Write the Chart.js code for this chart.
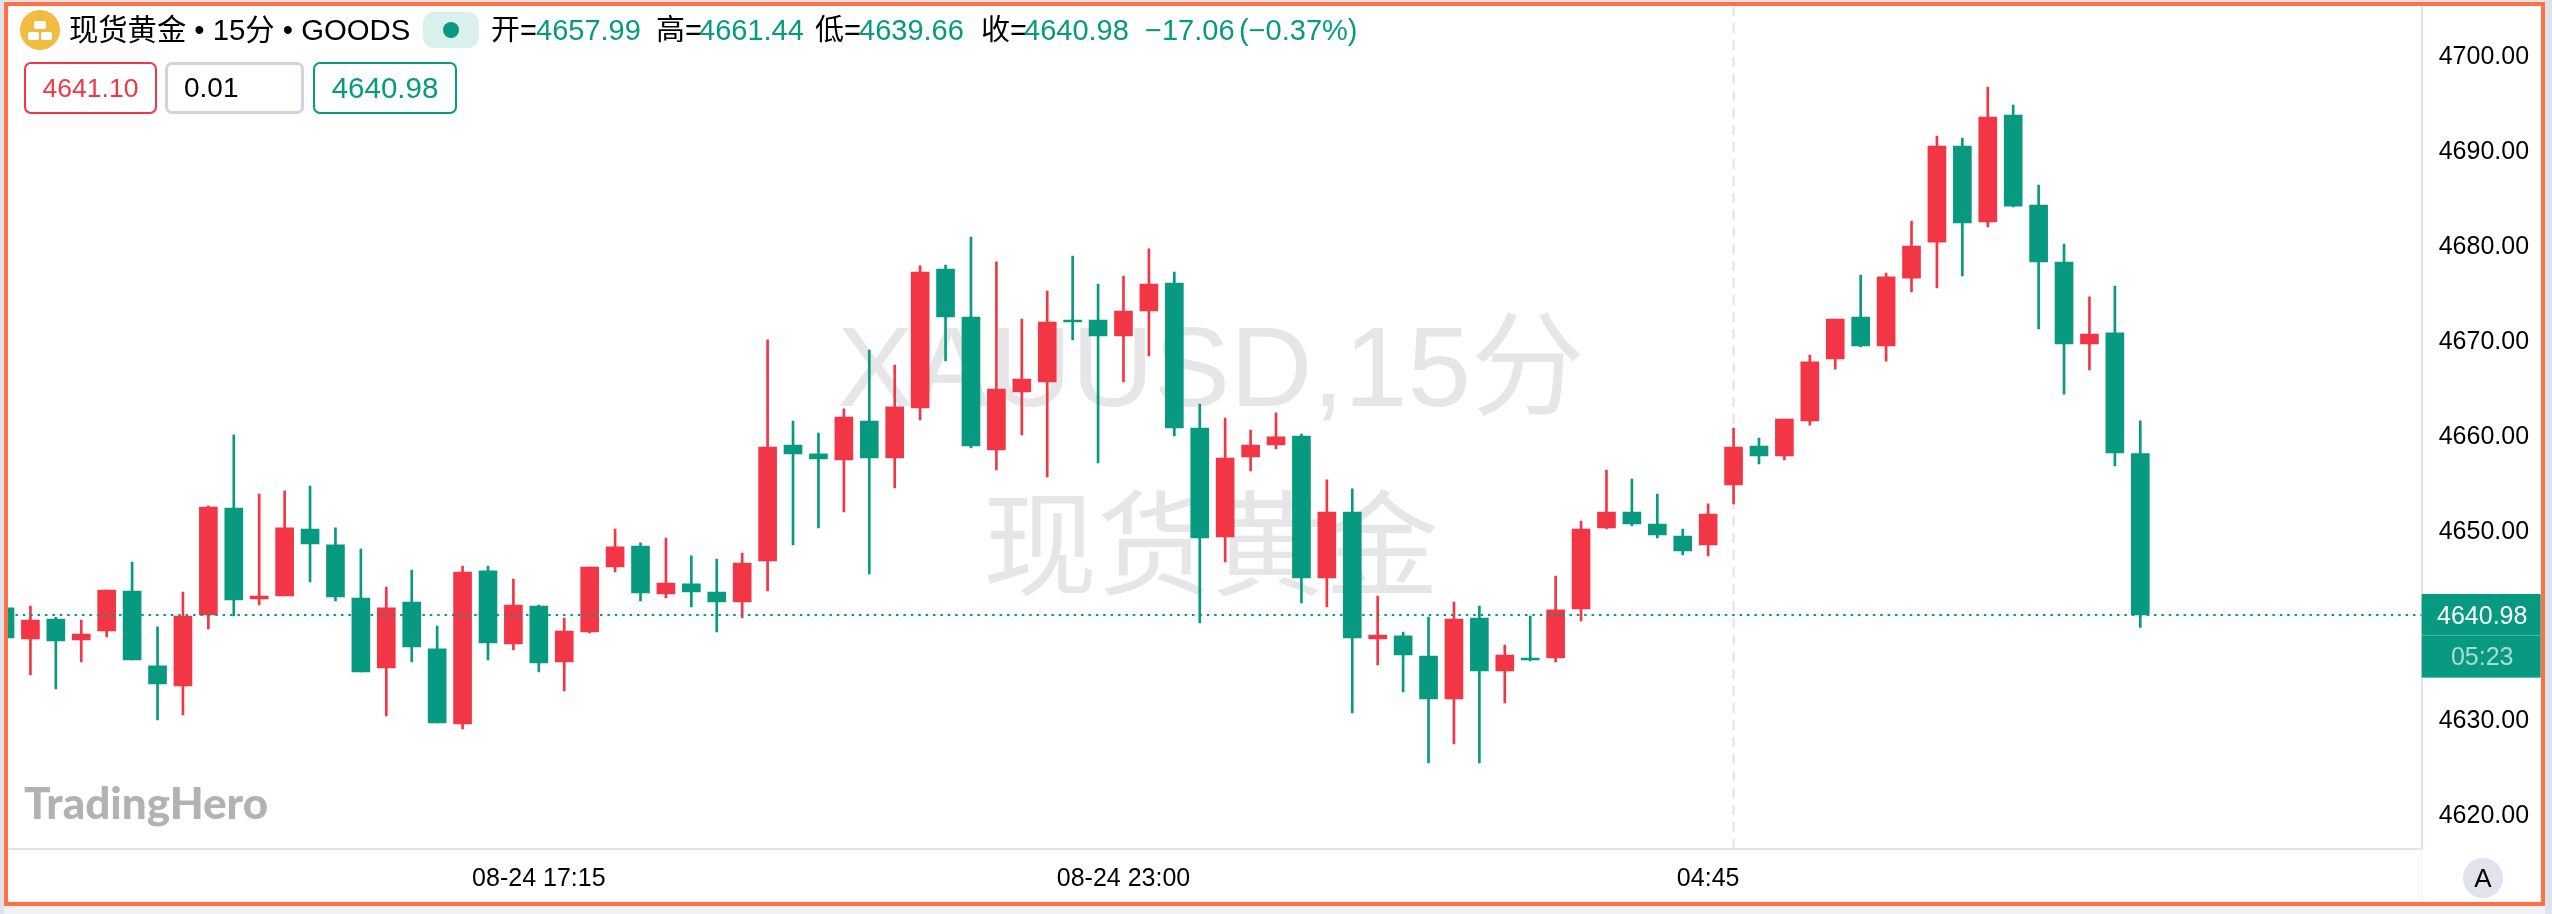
<!DOCTYPE html>
<html lang="zh">
<head>
<meta charset="utf-8">
<title>现货黄金 15分</title>
<script src="https://cdn.jsdelivr.net/npm/chart.js@4"></script>
<style>
  html, body { margin: 0; padding: 0; background: #dfe3ec; }
  body { position: relative; width: 2552px; height: 914px; overflow: hidden; font-family: "Liberation Sans", "Noto Sans CJK SC", sans-serif; color: #000; }
  #bg { position: absolute; left: 4px; top: 2px; width: 2541px; height: 904px; background: #fff; z-index: 0; }
  #foot { position: absolute; left: 4px; top: 906px; width: 2541px; height: 8px; background: #f0f2f6; z-index: 0; }
  #chart { position: absolute; left: 0; top: 0; z-index: 1; }
  .t { position: absolute; white-space: nowrap; z-index: 2; font-size: 29px; line-height: 36px; top: 12px; }
  .up { color: #089981; }
  .mark { position: absolute; z-index: 0; white-space: nowrap; color: #e6e6e8; font-size: 114px; line-height: 120px; transform: translateX(-50%); left: 1211px; }
  .chip { position: absolute; z-index: 2; top: 62px; height: 52px; box-sizing: border-box; border-radius: 7px; font-size: 26.5px; line-height: 48px; text-align: center; }
  #frame { position: absolute; left: 4px; top: 2px; width: 2541px; height: 904px; box-sizing: border-box; border: 4px solid #ff7043; z-index: 3; }
  #logo { position: absolute; left: 24px; top: 777px; z-index: 2; font-family: Lato, sans-serif; font-weight: 900; font-size: 44px; line-height: 50px; color: #b2b2b2; }
  #auto { position: absolute; left: 2463px; top: 858px; width: 40px; height: 40px; border-radius: 20px; background: #e0e3eb; z-index: 2; text-align: center; font-size: 26px; line-height: 40px; }
  #badge { position: absolute; left: 423px; top: 12px; width: 56px; height: 36px; border-radius: 11px; background: #d9f0ec; z-index: 2; }
  #badge i { position: absolute; left: 20px; top: 10px; width: 16px; height: 16px; border-radius: 8px; background: #089981; }
  #gold { position: absolute; left: 20px; top: 10px; z-index: 2; }
</style>
</head>
<body>
<div id="bg"></div>
<div id="foot"></div>
<div class="mark" style="top:307px">XAUUSD,15分</div>
<div class="mark" style="top:487px">现货黄金</div>
<canvas id="chart" width="2552" height="914"></canvas>

<svg id="gold" width="40" height="40" viewBox="0 0 40 40">
  <circle cx="20" cy="20" r="20" fill="#f0bc41"/>
  <rect x="14" y="11" width="12" height="8" rx="2" fill="#fff"/>
  <rect x="8" y="22" width="11" height="8" rx="2" fill="#fff"/>
  <rect x="21" y="22" width="11" height="8" rx="2" fill="#fff"/>
</svg>
<div class="t" style="left:69px;font-size:29.3px">现货黄金 • 15分 • GOODS</div>
<div id="badge"><i></i></div>
<div class="t" style="left:491px">开=</div><div class="t up" style="left:536px">4657.99</div>
<div class="t" style="left:656px">高=</div><div class="t up" style="left:699px">4661.44</div>
<div class="t" style="left:815px">低=</div><div class="t up" style="left:859px">4639.66</div>
<div class="t" style="left:981px">收=</div><div class="t up" style="left:1024px">4640.98</div>
<div class="t up" style="left:1145px">−17.06</div>
<div class="t up" style="left:1239px">(−0.37%)</div>

<div class="chip" style="left:24px;width:133px;border:2px solid #f23645;color:#f23645">4641.10</div>
<div class="chip" style="left:165px;width:139px;border:3px solid #d1d4dc;text-align:left;padding-left:16px;line-height:46px;font-size:28px">0.01</div>
<div class="chip" style="left:313px;width:144px;border:2px solid #089981;color:#089981;font-size:29.5px">4640.98</div>

<div id="logo">TradingHero</div>
<div id="auto">A</div>
<div id="frame"></div>

<script>
// OHLC, one entry per 15 minute candle
var opens = [4641.71,4638.44,4640.55,4638.34,4639.28,4643.50,4635.60,4633.49,4640.97,4652.24,4642.66,4642.97,4650.03,4648.35,4642.76,4635.38,4642.34,4637.39,4629.48,4645.61,4637.91,4641.92,4636.02,4639.18,4646.03,4648.24,4643.18,4644.24,4643.39,4642.34,4646.66,4658.88,4657.94,4657.30,4661.41,4657.51,4662.78,4677.43,4672.37,4658.36,4664.47,4665.52,4672.05,4672.05,4670.37,4673.00,4675.95,4660.67,4649.19,4657.62,4658.88,4659.83,4644.87,4651.82,4638.44,4638.76,4636.65,4632.12,4640.65,4635.07,4636.44,4636.44,4641.60,4650.14,4651.82,4650.56,4649.29,4648.35,4654.67,4658.78,4657.72,4661.43,4667.96,4672.35,4669.33,4676.47,4680.26,4690.38,4682.40,4693.65,4684.17,4678.16,4669.53,4670.70,4657.99];
var highs = [4641.71,4641.92,4640.72,4640.44,4643.60,4646.55,4639.71,4643.39,4652.46,4659.94,4653.72,4654.04,4654.56,4650.14,4647.92,4643.92,4645.71,4639.81,4646.13,4646.13,4644.76,4642.02,4640.65,4646.03,4650.03,4648.56,4649.08,4647.19,4646.87,4647.50,4669.95,4661.41,4660.15,4662.68,4668.89,4667.31,4677.75,4677.85,4680.80,4678.17,4672.16,4675.11,4678.80,4675.85,4676.69,4679.54,4677.11,4663.20,4661.73,4660.46,4662.26,4660.04,4655.20,4654.25,4642.97,4639.18,4640.76,4642.34,4641.92,4637.81,4640.86,4645.08,4650.87,4656.25,4655.30,4653.72,4650.03,4652.67,4660.67,4659.62,4661.62,4668.36,4672.15,4676.79,4676.99,4682.48,4691.43,4691.23,4696.59,4694.69,4686.27,4680.06,4674.49,4675.62,4661.44];
var lows = [4638.55,4634.65,4633.17,4636.02,4638.65,4636.23,4629.91,4630.43,4639.49,4640.86,4642.02,4642.97,4644.45,4642.45,4634.96,4630.33,4636.02,4629.59,4628.96,4636.23,4637.28,4634.96,4632.96,4639.07,4645.50,4642.45,4642.76,4641.81,4639.18,4640.65,4643.50,4648.35,4650.14,4651.82,4645.29,4654.35,4661.52,4667.73,4658.57,4656.25,4659.94,4655.51,4669.95,4656.99,4665.52,4668.26,4659.83,4640.13,4646.55,4656.14,4658.46,4642.23,4641.81,4630.64,4635.70,4632.86,4625.37,4627.38,4625.37,4631.70,4636.12,4636.02,4640.34,4650.03,4650.35,4649.08,4647.29,4647.19,4652.67,4656.88,4657.30,4660.98,4666.87,4669.21,4667.72,4675.02,4675.42,4676.71,4681.87,4683.97,4671.10,4664.25,4666.79,4656.67,4639.66];
var closes = [4638.55,4640.44,4638.23,4638.97,4643.60,4636.23,4633.70,4640.86,4652.35,4642.55,4642.97,4650.14,4648.45,4642.87,4634.96,4641.71,4637.60,4629.59,4645.50,4638.02,4642.02,4635.91,4639.28,4646.03,4648.14,4643.29,4644.34,4643.39,4642.34,4646.45,4658.67,4657.94,4657.41,4661.83,4657.51,4662.89,4677.11,4672.37,4658.78,4664.78,4665.84,4671.84,4671.84,4670.37,4673.00,4675.85,4660.67,4649.08,4657.51,4658.88,4659.73,4644.87,4651.82,4638.55,4638.86,4636.75,4632.12,4640.55,4635.07,4636.75,4636.23,4641.50,4650.03,4651.82,4650.56,4649.40,4647.71,4651.61,4658.67,4657.72,4661.62,4667.64,4672.15,4669.33,4676.59,4679.85,4690.38,4682.27,4693.44,4684.05,4678.16,4669.53,4670.58,4658.04,4640.98];

var tickIndex = [21, 44, 67];
var tickLabels = ['08-24 17:15', '08-24 23:00', '04:45'];
var priceTicks = [4620, 4630, 4640, 4650, 4660, 4670, 4680, 4690, 4700];
var lastPrice = 4640.98;
var countdown = '05:23';
var markerIndex = 68;

var RED = '#f23645';
var GREEN = '#089981';
var LINE = '#e0e3eb';
// first candle starts cut off by the left edge, room for 11 more on the right
var xMin = 0.118, xMax = 95.07;

function candleColor(ctx) {
    return closes[ctx.dataIndex] >= opens[ctx.dataIndex] ? RED : GREEN;
}

// vertical dashed marker, behind the candles
var markerPlugin = {
    id: 'marker',
    beforeDatasetsDraw: function (chart) {
        var c = chart.ctx, area = chart.chartArea;
        var x = chart.scales.x.getPixelForValue(markerIndex);
        c.save();
        c.strokeStyle = LINE;
        c.lineWidth = 2;
        c.setLineDash([10, 7]);
        c.beginPath();
        c.moveTo(x, area.top);
        c.lineTo(x, area.bottom);
        c.stroke();
        c.restore();
    }
};

// last price tag on the axis plus the faint stub under the price axis
var priceTagPlugin = {
    id: 'priceTag',
    afterDraw: function (chart) {
        var c = chart.ctx, s = chart.scales.y;
        var y = s.getPixelForValue(lastPrice);
        var left = s.left, w = 119;
        c.save();
        c.fillStyle = GREEN;
        c.fillRect(left, y - 21, w, 84);
        c.fillStyle = 'rgba(255,255,255,0.3)';
        c.fillRect(left, y + 20, w, 1);
        c.fillRect(left, y - 22, w, 1);
        c.fillRect(left, y + 62, w, 1);
        c.font = '25px "Liberation Sans"';
        c.textAlign = 'center';
        c.textBaseline = 'middle';
        c.fillStyle = '#fff';
        c.fillText(lastPrice.toFixed(2), left + w / 2 + 1, y + 2);
        c.fillStyle = 'rgba(255,255,255,0.65)';
        c.fillText(countdown, left + w / 2 + 1, y + 43);
        c.fillStyle = '#f2f3f5';
        c.fillRect(left - 1, chart.chartArea.bottom, 1, 53);
        c.restore();
    }
};

new Chart(document.getElementById('chart').getContext('2d'), {
    type: 'bar',
    data: {
        datasets: [
            {
                type: 'line',
                data: [{ x: xMin, y: lastPrice }, { x: xMax, y: lastPrice }],
                borderColor: GREEN,
                borderWidth: 2,
                borderDash: [2.5, 4.9],
                pointRadius: 0,
                order: 0
            },
            {
                data: opens.map(function (o, i) { return { x: i, y: [o, closes[i]] }; }),
                backgroundColor: candleColor,
                barThickness: 18,
                grouped: false,
                order: 1
            },
            {
                data: lows.map(function (l, i) { return { x: i, y: [l, highs[i]] }; }),
                backgroundColor: candleColor,
                barThickness: 2,
                grouped: false,
                order: 2
            }
        ]
    },
    options: {
        responsive: false,
        animation: false,
        devicePixelRatio: 1,
        layout: { padding: { left: 8, top: 6, right: 11, bottom: 12 } },
        plugins: { legend: { display: false }, tooltip: { enabled: false } },
        scales: {
            x: {
                type: 'linear',
                offset: false,
                min: xMin,
                max: xMax,
                grid: { display: false },
                border: { color: LINE, width: 2 },
                afterBuildTicks: function (scale) {
                    scale.ticks = tickIndex.map(function (v) { return { value: v }; });
                },
                afterFit: function (scale) {
                    scale.height = 53;
                    scale.paddingLeft = 0;
                    scale.paddingRight = 0;
                },
                ticks: {
                    autoSkip: false,
                    maxRotation: 0,
                    color: '#000',
                    padding: 7,
                    font: { family: '"Liberation Sans"', size: 25 },
                    callback: function (v) { return tickLabels[tickIndex.indexOf(v)]; }
                }
            },
            y: {
                position: 'right',
                min: 4616.31,
                max: 4705.14,
                grid: { display: false },
                border: { color: LINE, width: 2 },
                afterBuildTicks: function (scale) {
                    scale.ticks = priceTicks.map(function (v) { return { value: v }; });
                },
                afterFit: function (scale) {
                    scale.width = 119.3;
                    scale.paddingTop = 0;
                    scale.paddingBottom = 0;
                },
                ticks: {
                    autoSkip: false,
                    color: '#000',
                    padding: 9,
                    labelOffset: 2.5,
                    font: { family: '"Liberation Sans"', size: 25 },
                    callback: function (v) { return v.toFixed(2); }
                }
            }
        }
    },
    plugins: [markerPlugin, priceTagPlugin]
});
</script>
</body>
</html>
